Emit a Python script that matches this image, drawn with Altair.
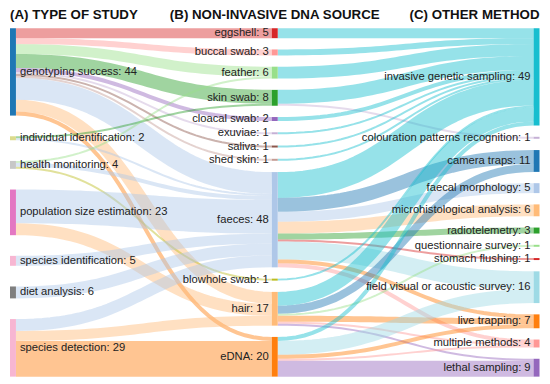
import altair as alt
import pandas as pd
import numpy as np

# ---------------- data ----------------
a_names = ["genotyping success", "individual identification", "health monitoring",
           "population size estimation", "species identification", "diet analysis",
           "species detection"]
a_values = [44, 2, 4, 23, 5, 6, 29]
a_colors = ["#1f77b4", "#dbdb8d", "#c7c7c7", "#e377c2", "#f7b6d2", "#7f7f7f", "#f7b6d2"]

b_names = ["eggshell", "buccal swab", "feather", "skin swab", "cloacal swab", "exuviae",
           "saliva", "shed skin", "faeces", "blowhole swab", "hair", "eDNA"]
b_values = [5, 3, 6, 8, 2, 1, 1, 1, 48, 1, 17, 20]
b_colors = ["#d62728", "#ff9896", "#98df8a", "#2ca02c", "#9467bd", "#c5b0d5",
            "#8c564b", "#c49c94", "#aec7e8", "#bcbd22", "#ffbb78", "#ff7f0e"]

c_names = ["invasive genetic sampling", "colouration patterns recognition", "camera traps",
           "faecal morphology", "microhistological analysis", "radiotelemetry",
           "questionnaire survey", "stomach flushing", "field visual or acoustic survey",
           "live trapping", "multiple methods", "lethal sampling"]
c_values = [49, 1, 11, 5, 6, 3, 1, 1, 16, 7, 4, 9]
c_colors = ["#17becf", "#c5b0d5", "#1f77b4", "#aec7e8", "#ffbb78", "#2ca02c",
            "#98df8a", "#d62728", "#9edae5", "#ff7f0e", "#ff9896", "#9467bd"]

# flows: type of study -> DNA source
ab_source = ["genotyping success"] * 11 + ["individual identification"] * 2 + \
            ["health monitoring"] * 3 + ["population size estimation"] * 2 + \
            ["species identification", "diet analysis"] + ["species detection"] * 3
ab_target = ["eggshell", "buccal swab", "feather", "skin swab", "cloacal swab", "exuviae",
             "saliva", "shed skin", "faeces", "hair", "eDNA",
             "skin swab", "faeces",
             "feather", "faeces", "blowhole swab",
             "faeces", "hair",
             "faeces", "faeces",
             "faeces", "hair", "eDNA"]
ab_value = [5, 3, 5, 7, 2, 1, 1, 1, 11, 6, 2,
            1, 1,
            1, 2, 1,
            17, 6,
            5, 6,
            6, 5, 18]

# flows: DNA source -> other method
bc_source = ["eggshell", "buccal swab", "feather", "skin swab", "skin swab", "cloacal swab",
             "exuviae", "saliva", "shed skin"] + ["faeces"] * 9 + ["blowhole swab"] + \
            ["hair"] * 6 + ["eDNA"] * 5
bc_target = ["invasive genetic sampling"] * 4 + ["colouration patterns recognition"] + \
            ["invasive genetic sampling"] * 4 + \
            ["invasive genetic sampling", "camera traps", "faecal morphology",
             "microhistological analysis", "radiotelemetry", "stomach flushing",
             "field visual or acoustic survey", "live trapping", "multiple methods"] + \
            ["invasive genetic sampling"] + \
            ["invasive genetic sampling", "camera traps", "questionnaire survey",
             "live trapping", "multiple methods", "lethal sampling"] + \
            ["invasive genetic sampling", "field visual or acoustic survey", "live trapping",
             "multiple methods", "lethal sampling"]
bc_value = [5, 3, 6, 7, 1, 2, 1, 1, 1,
            13, 7, 5, 6, 3, 1, 9, 2, 2,
            1,
            7, 4, 1, 3, 1, 1,
            2, 7, 2, 1, 8]

headers = ["(A) TYPE OF STUDY", "(B) NON-INVASIVE DNA SOURCE", "(C) OTHER METHOD"]

# ---------------- layout (sankey) ----------------
W, H = 538, 372
K = 2.0                 # px per flow unit
COL_PX = 263.75         # px between columns
LEFT_PX = 2.0
NODE_PX = 6.0
TOP_PX = 19.0
SPAN_PX = 351.0

NW = NODE_PX / COL_PX
x_dom = [-LEFT_PX / COL_PX, (W - LEFT_PX) / COL_PX]
y_dom = [0, H / K]
top_u = TOP_PX / K
span_u = SPAN_PX / K

pos = {}
node_rows = []
for col, (names, vals, cols) in enumerate([(a_names, a_values, a_colors),
                                           (b_names, b_values, b_colors),
                                           (c_names, c_values, c_colors)]):
    gap = (span_u - sum(vals)) / (len(vals) - 1)
    y = top_u
    for n, v, c in zip(names, vals, cols):
        pos[(col, n)] = (y, y + v)
        node_rows.append(dict(name=n, label=f"{n}: {v}", col=col, x0=col, x1=col + NW,
                              y0=y, y1=y + v, ym=y + v / 2, color=c))
        y += v + gap
nodes = pd.DataFrame(node_rows)
color_of = {(r.col, r.name): r.color for r in nodes.itertuples()}

links = []
for s, t, v in zip(ab_source, ab_target, ab_value):
    links.append(dict(sc=0, s=s, tc=1, t=t, v=v))
for s, t, v in zip(bc_source, bc_target, bc_value):
    links.append(dict(sc=1, s=s, tc=2, t=t, v=v))

# offsets within nodes
for key in pos:
    outs = sorted([l for l in links if (l["sc"], l["s"]) == key],
                  key=lambda l: pos[(l["tc"], l["t"])][0])
    off = pos[key][0]
    for l in outs:
        l["sy"] = off + l["v"] / 2
        off += l["v"]
    ins = sorted([l for l in links if (l["tc"], l["t"]) == key],
                 key=lambda l: pos[(l["sc"], l["s"])][0])
    off = pos[key][0]
    for l in ins:
        l["ty"] = off + l["v"] / 2
        off += l["v"]

ts = np.linspace(0, 1, 41)
link_rows = []
for i, l in enumerate(links):
    xs, xt = l["sc"] + NW, l["tc"]
    xm = (xs + xt) / 2
    ys, yt = l["sy"], l["ty"]
    for j, t in enumerate(ts):
        a, b, c, d = (1 - t) ** 3, 3 * (1 - t) ** 2 * t, 3 * (1 - t) * t ** 2, t ** 3
        link_rows.append(dict(id=i, k=j, x=a * xs + b * xm + c * xm + d * xt,
                              y=a * ys + b * ys + c * yt + d * yt,
                              w=l["v"], color=color_of[(l["tc"], l["t"])]))
link_df = pd.DataFrame(link_rows)

hdr = pd.DataFrame(dict(text=headers, x=[0, 1 + NW / 2, 2 + NW], y=[9.5 / K] * 3,
                        al=["left", "center", "right"]))

# ---------------- chart ----------------
xs_ = alt.Scale(domain=x_dom, nice=False, zero=False)
ys_ = alt.Scale(domain=y_dom, nice=False, zero=False, reverse=True)

link_layer = alt.Chart(link_df).mark_line(strokeOpacity=0.45, strokeCap="butt").encode(
    x=alt.X("x:Q", scale=xs_, axis=None),
    y=alt.Y("y:Q", scale=ys_, axis=None),
    detail="id:N",
    order="k:Q",
    color=alt.Color("color:N", scale=None),
    strokeWidth=alt.StrokeWidth("w:Q", scale=alt.Scale(domain=[0, 1], range=[0, K], nice=False), legend=None),
)

node_layer = alt.Chart(nodes).mark_rect().encode(
    x=alt.X("x0:Q", scale=xs_, axis=None), x2="x1:Q",
    y=alt.Y("y0:Q", scale=ys_, axis=None), y2="y1:Q",
    color=alt.Color("color:N", scale=None),
)

FONT = "Liberation Sans"
lab_left = alt.Chart(nodes[nodes["col"] == 0]).mark_text(
    align="left", baseline="middle", dx=4, fontSize=11.3, font=FONT, color="#222").encode(
    x=alt.X("x1:Q", scale=xs_, axis=None), y=alt.Y("ym:Q", scale=ys_, axis=None), text="label:N")
lab_right = alt.Chart(nodes[nodes["col"] > 0]).mark_text(
    align="right", baseline="middle", dx=-3, fontSize=11.3, font=FONT, color="#222").encode(
    x=alt.X("x0:Q", scale=xs_, axis=None), y=alt.Y("ym:Q", scale=ys_, axis=None), text="label:N")

hdr_layers = []
for al in ["left", "center", "right"]:
    hdr_layers.append(alt.Chart(hdr[hdr["al"] == al]).mark_text(
        align=al, baseline="alphabetic", fontSize=13.4, fontWeight="bold", font=FONT,
        color="#111").encode(
        x=alt.X("x:Q", scale=xs_, axis=None), y=alt.Y("y:Q", scale=ys_, axis=None), text="text:N"))

chart = alt.layer(link_layer, node_layer, lab_left, lab_right, *hdr_layers).properties(
    width=W, height=H, padding=0,
    autosize=alt.AutoSizeParams(type="none", contains="padding"),
).configure_view(stroke=None)

chart.save("out.html", embed_options={"renderer": "svg", "actions": False})
